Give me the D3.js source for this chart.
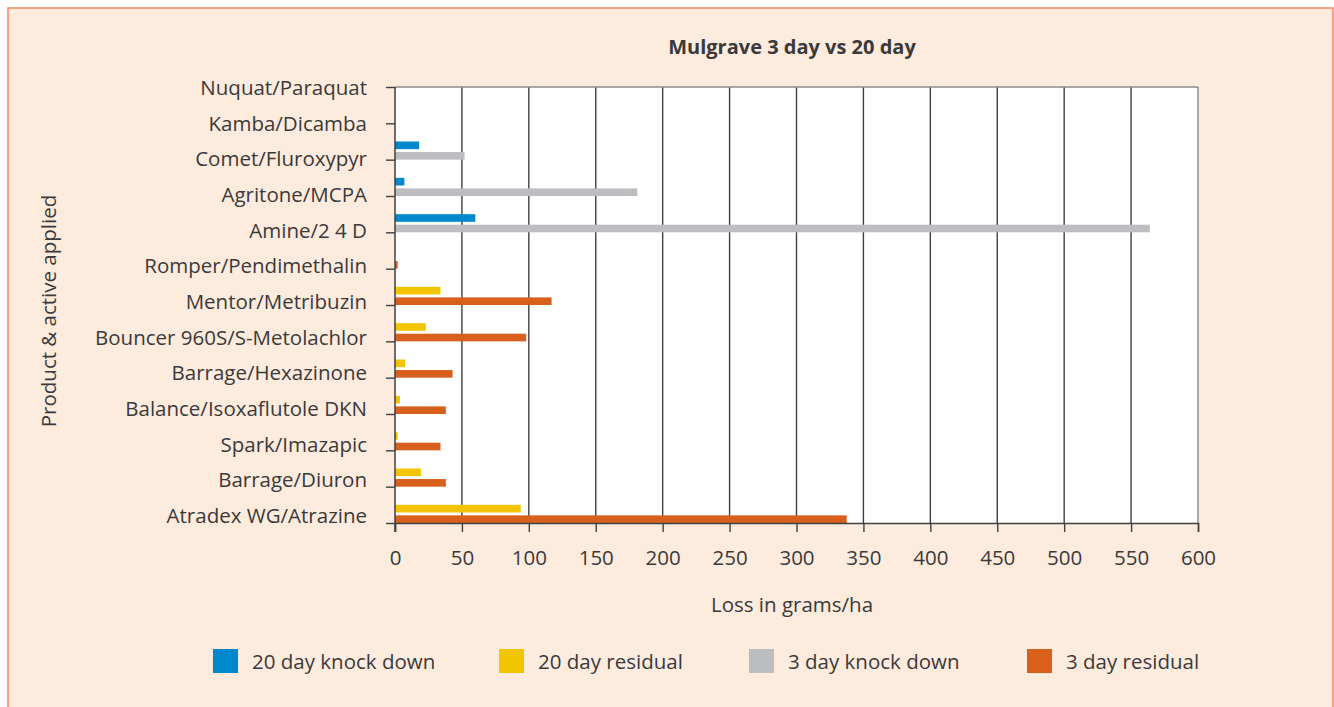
<!DOCTYPE html>
<html>
<head>
<meta charset="utf-8">
<script src="https://cdnjs.cloudflare.com/ajax/libs/d3/7.8.5/d3.min.js"></script>
<style>
    body { margin: 0; background: #ffffff; }
    svg { display: block; font-family: "Open Sans", "Noto Sans", sans-serif; }
</style>
</head>
<body>
<div id="chart"></div>
<script>
// categories top to bottom, as on the axis
const products = [
    "Nuquat/Paraquat", "Kamba/Dicamba", "Comet/Fluroxypyr", "Agritone/MCPA",
    "Amine/2 4 D", "Romper/Pendimethalin", "Mentor/Metribuzin",
    "Bouncer 960S/S-Metolachlor", "Barrage/Hexazinone", "Balance/Isoxaflutole DKN",
    "Spark/Imazapic", "Barrage/Diuron", "Atradex WG/Atrazine"
];

// loss in grams/ha
const knock20 = [0, 0, 18, 7, 60, 0, 0, 0, 0, 0, 0, 0, 0];
const residual20 = [0, 0, 0, 0, 0, 0, 34, 23, 7.5, 3.7, 2, 19.4, 94];
const knock3 = [0, 0, 52, 181, 564, 0, 0, 0, 0, 0, 0, 0, 0];
const residual3 = [0, 0, 0, 0, 0, 2, 117, 98, 43, 38, 34, 38, 337.5];

const seriesNames = ["20 day knock down", "20 day residual", "3 day knock down", "3 day residual"];
const seriesColors = ["#0088cf", "#f2c500", "#bcbdc1", "#d9601c"];
const xTicks = d3.range(0, 601, 50);

const W = 1334, H = 707;
const margin = {top: 87, left: 395, right: 136, bottom: 184};
const width = W - margin.left - margin.right;
const height = H - margin.top - margin.bottom;
const textColor = "#3a3a3a";
const fontSize = "20.5px";

const svg = d3.select("#chart").append("svg")
    .attr("width", W)
    .attr("height", H);

// panel background and border
svg.append("rect")
    .attr("x", 8).attr("y", 8)
    .attr("width", W - 9).attr("height", H)
    .attr("fill", "#fdebde")
    .attr("stroke", "#ef8a5e")
    .attr("stroke-width", 1.5);

const chart = svg.append("g")
    .attr("transform", `translate(${margin.left},${margin.top})`);

const x = d3.scaleLinear().domain([0, 600]).range([0, width]);
// bars fill the space just above each tick mark
const y = d3.scalePoint().domain(products).range([0, height]);
// the labels are spread a little tighter than the ticks
const yLabel = d3.scalePoint().domain(products).range([8, height]);
const step = y.step();

chart.append("rect")
    .attr("width", width).attr("height", height)
    .attr("fill", "#ffffff");

// vertical gridlines
chart.selectAll(".grid")
    .data(xTicks.slice(1))
    .join("line")
    .attr("class", "grid")
    .attr("x1", d => x(d)).attr("x2", d => x(d))
    .attr("y1", 0).attr("y2", height)
    .attr("stroke", d => d === 600 ? "#8c8884" : "#3f3f3f")
    .attr("stroke-width", 1.4);

chart.append("line")
    .attr("x1", 0).attr("x2", width)
    .attr("y1", 0).attr("y2", 0)
    .attr("stroke", "#8c8884").attr("stroke-width", 1.5);

// bars: upper one is the 20 day series, lower one the 3 day series
const barH = step * 0.21;
const rows = [];
products.forEach((p, i) => {
    rows.push({p, v: knock20[i], s: 0, slot: 0});
    rows.push({p, v: residual20[i], s: 1, slot: 0});
    rows.push({p, v: knock3[i], s: 2, slot: 1});
    rows.push({p, v: residual3[i], s: 3, slot: 1});
});

chart.selectAll(".bar")
    .data(rows.filter(d => d.v > 0))
    .join("rect")
    .attr("class", "bar")
    .attr("x", x(0))
    .attr("y", d => y(d.p) - (d.slot === 1 ? barH : step * 0.5))
    .attr("width", d => x(d.v) - x(0))
    .attr("height", barH)
    .attr("fill", d => seriesColors[d.s]);

// x axis
const xAxis = chart.append("g")
    .attr("transform", `translate(0,${height})`)
    .attr("font-family", null)
    .call(d3.axisBottom(x).tickValues(xTicks).tickSize(9).tickPadding(18));
xAxis.attr("font-family", null).attr("font-size", null);
xAxis.select(".domain").attr("stroke", "#3f3f3f").attr("stroke-width", 1.5);
xAxis.selectAll(".tick line").attr("stroke", "#3f3f3f").attr("stroke-width", 1.4);
xAxis.selectAll(".tick text")
    .attr("fill", textColor)
    .style("font-size", fontSize);

// y axis: ticks only, labels placed separately
const yAxis = chart.append("g")
    .call(d3.axisLeft(y).tickSize(9).tickFormat(""));
yAxis.select(".domain").attr("d", `M0,0V${height + 9}`).attr("stroke", "#3f3f3f").attr("stroke-width", 1.5);
yAxis.selectAll(".tick line").attr("stroke", "#3f3f3f").attr("stroke-width", 1.4);

chart.selectAll(".ylabel")
    .data(products)
    .join("text")
    .attr("class", "ylabel")
    .attr("x", -28)
    .attr("y", d => yLabel(d))
    .attr("text-anchor", "end")
    .attr("fill", textColor)
    .style("font-size", fontSize)
    .text(d => d);

// title and axis titles
svg.append("text")
    .attr("x", 792).attr("y", 54)
    .attr("text-anchor", "middle")
    .attr("fill", textColor)
    .style("font-size", "20px")
    .style("font-weight", "bold")
    .text("Mulgrave 3 day vs 20 day");

svg.append("text")
    .attr("x", 792).attr("y", 612)
    .attr("text-anchor", "middle")
    .attr("fill", textColor)
    .style("font-size", fontSize)
    .text("Loss in grams/ha");

svg.append("text")
    .attr("transform", "translate(56,311) rotate(-90)")
    .attr("text-anchor", "middle")
    .attr("fill", textColor)
    .style("font-size", fontSize)
    .text("Product & active applied");

// legend
const legendX = [213, 499, 749, 1027];
const legend = svg.selectAll(".legend")
    .data(seriesNames)
    .join("g")
    .attr("class", "legend")
    .attr("transform", (d, i) => `translate(${legendX[i]},649)`);

legend.append("rect")
    .attr("width", 25).attr("height", 24)
    .attr("fill", (d, i) => seriesColors[i]);

legend.append("text")
    .attr("x", 39).attr("y", 20)
    .attr("fill", textColor)
    .style("font-size", fontSize)
    .text(d => d);
</script>
</body>
</html>
